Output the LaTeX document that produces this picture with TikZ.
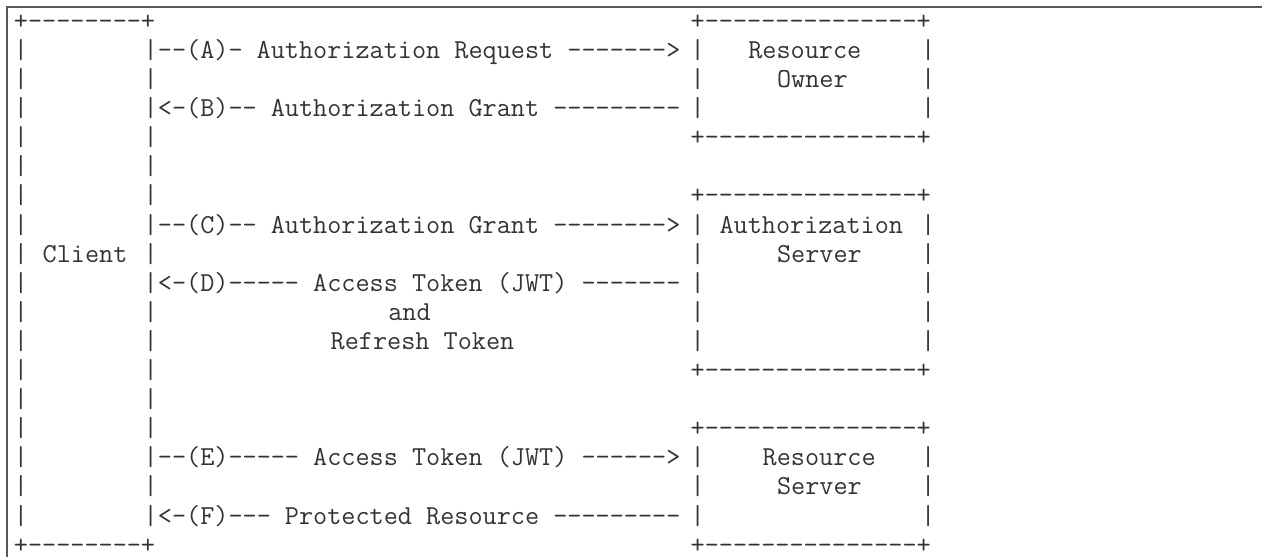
\documentclass[tikz,border=0pt]{standalone}
\usepackage{fontspec}
\setmonofont{Latin Modern Mono}[WordSpace={1,0,0}]
\usepackage{tikz}

\begin{document}
\begin{tikzpicture}[
    x=7.2pt, y=-14.55pt,
    ascii/.style={font=\ttfamily\fontsize{13.71}{15}\selectfont, text=black!80,
                  inner sep=0pt, text depth=0pt, anchor=base west, yshift=-3.3pt},
    frame/.style={draw=black!65, line width=1pt}
]
    \useasboundingbox (-0.9375, 0.22) rectangle (86.70, 19.327);

    % Frame round the block
    \coordinate (framebl) at (-0.43, 19.6);
    \coordinate (frametl) at (-0.43, 0.471);
    \coordinate (frametr) at (88, 0.471);
    \draw[frame] (framebl) -- (frametl) -- (frametr);

    % Client
    \node[ascii] (clienttop) at (0, 1) {+--------+};
    \foreach \r in {2,...,18} {
        \node[ascii] (clientl\r) at (0, \r) {|};
        \node[ascii] (clientr\r) at (9, \r) {|};
    }
    \node[ascii] (client) at (2, 9) {Client};
    \node[ascii] (clientbot) at (0, 19) {+--------+};

    % Right-hand boxes
    \foreach \top/\bot/\name in {1/5/owner, 7/13/authsrv, 15/19/ressrv} {
        \node[ascii] (\name top) at (47, \top) {+---------------+};
        \node[ascii] (\name bot) at (47, \bot) {+---------------+};
        \pgfmathtruncatemacro{\first}{\top+1}
        \pgfmathtruncatemacro{\last}{\bot-1}
        \foreach \r in {\first,...,\last} {
            \node[ascii] (\name l\r) at (47, \r) {|};
            \node[ascii] (\name r\r) at (63, \r) {|};
        }
    }

    % Box labels
    \node[ascii] (ownerA) at (51, 2) {Resource};
    \node[ascii] (ownerB) at (53, 3) {Owner};
    \node[ascii] (authsrvA) at (49, 8) {Authorization};
    \node[ascii] (authsrvB) at (53, 9) {Server};
    \node[ascii] (ressrvA) at (52, 16) {Resource};
    \node[ascii] (ressrvB) at (53, 17) {Server};

    % Messages
    \node[ascii] (msgA) at (10, 2) {--(A)- Authorization Request ------->};
    \node[ascii] (msgB) at (10, 4) {<-(B)-- Authorization Grant ---------};
    \node[ascii] (msgC) at (10, 8) {--(C)-- Authorization Grant -------->};
    \node[ascii] (msgD) at (10, 10) {<-(D)----- Access Token (JWT) -------};
    \node[ascii] (msgDand) at (26, 11) {and};
    \node[ascii] (msgDrefresh) at (22, 12) {Refresh Token};
    \node[ascii] (msgE) at (10, 16) {--(E)----- Access Token (JWT) ------>};
    \node[ascii] (msgF) at (10, 18) {<-(F)--- Protected Resource ---------};

\end{tikzpicture}
\end{document}
